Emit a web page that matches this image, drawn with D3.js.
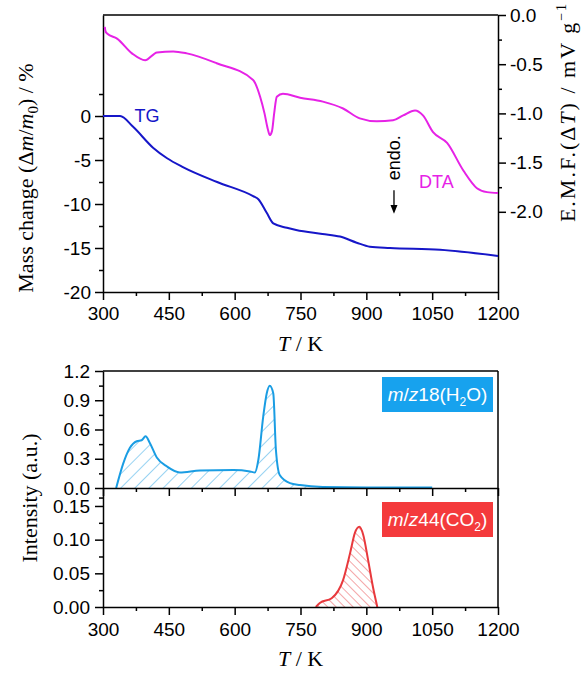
<!DOCTYPE html>
<html>
<head>
<meta charset="utf-8">
<script src="https://d3js.org/d3.v7.min.js"></script>
<style>
body { margin: 0; background: #fff; }
.tick text { font-family: "Liberation Sans", Arial, sans-serif; font-size: 19px; }
.domain { stroke: #000; stroke-width: 1.5; }
.tick line { stroke: #000; stroke-width: 1.5; }
.title { font-family: "Liberation Serif", "Times New Roman", serif; font-size: 22px; }
</style>
</head>
<body>
<script>
// TG (mass change, %)
var tgT = [300, 339, 368, 414, 446, 482, 560, 642, 654, 673, 688, 719, 740, 800, 840, 878, 908, 954, 1068, 1200];
var tgV = [0, 0, -1.2, -3.6, -4.8, -5.8, -7.5, -9.1, -9.45, -11, -12.2, -12.7, -12.95, -13.4, -13.7, -14.4, -14.85, -15.0, -15.2, -15.9];

// DTA (mV/g)
var dtaT = [304, 306, 310, 332, 366, 396, 423, 460, 491, 559, 642, 658, 668, 675, 680, 685, 690, 696, 710, 749, 801, 847, 885, 924, 961, 984, 1011, 1029, 1052, 1084, 1121, 1152, 1175, 1200];
var dtaV = [-0.12, -0.17, -0.19, -0.24, -0.39, -0.46, -0.38, -0.37, -0.39, -0.49, -0.66, -0.83, -1.0, -1.15, -1.22, -1.18, -1.0, -0.83, -0.80, -0.84, -0.88, -0.95, -1.05, -1.08, -1.07, -1.02, -0.97, -1.02, -1.19, -1.30, -1.58, -1.76, -1.80, -1.81];

// MS m/z 18
var h2oT = [330, 346, 361, 377, 388, 397, 407, 423, 446, 475, 521, 597, 635, 646, 654, 665, 673, 680, 688, 694, 703, 726, 749, 801, 900, 1000, 1050];
var h2oV = [0, 0.25, 0.41, 0.48, 0.49, 0.53, 0.46, 0.31, 0.22, 0.16, 0.18, 0.185, 0.17, 0.16, 0.29, 0.73, 0.97, 1.05, 0.97, 0.39, 0.13, 0.05, 0.03, 0.01, 0.005, 0.005, 0.005];

// MS m/z 44
var co2T = [785, 794, 821, 847, 863, 874, 884, 893, 904, 915, 925];
var co2V = [0, 0.006, 0.013, 0.04, 0.08, 0.11, 0.119, 0.107, 0.07, 0.03, 0];

var xTicks = [300, 450, 600, 750, 900, 1050, 1200];
var tgTicks = [-20, -15, -10, -5, 0];
var dtaTicks = [0, -0.5, -1.0, -1.5, -2.0];
var h2oTicks = [0, 0.3, 0.6, 0.9, 1.2];
var co2Ticks = [0, 0.05, 0.10, 0.15];

var w = 586, h = 673;
var L = 103, R = 498;

var svg = d3.select("body").append("svg").attr("width", w).attr("height", h);

// plain hyphen minus like the original
function fmt(p) {
    return function(d) { return (p == null ? String(d) : d.toFixed(p)).replace("\u2212", "-"); };
}

var defs = svg.append("defs");
function hatch(id, color, angle, gap) {
    var p = defs.append("pattern").attr("id", id).attr("patternUnits", "userSpaceOnUse")
        .attr("width", gap).attr("height", gap).attr("patternTransform", "rotate(" + angle + ")");
    p.append("line").attr("x1", 0).attr("y1", 0).attr("x2", 0).attr("y2", gap)
        .attr("stroke", color).attr("stroke-width", 0.9);
}
hatch("hH2O", "#1a9de3", 45, 10);
hatch("hCO2", "#e8393d", -45, 6);

var x = d3.scaleLinear().domain([300, 1200]).range([L, R]);

// ---------- top panel ----------
var topY0 = 15, topY1 = 292;
var yTG = d3.scaleLinear().domain([-20, 11.48]).range([topY1, topY0]);
var yDTA = d3.scaleLinear().domain([-2.815, 0]).range([topY1, topY0]);

function minorAxis(g, axisFn, scale, vals) {
    g.call(axisFn(scale).tickValues(vals).tickSize(4).tickFormat("").tickSizeOuter(0));
    g.select(".domain").remove();
}

function mids(arr) {
    var out = [];
    var s = arr.slice().sort(function(a, b) { return a - b; });
    for (var i = 0; i < s.length - 1; i++) out.push((s[i] + s[i + 1]) / 2);
    return out;
}

svg.append("line").attr("x1", L).attr("x2", R).attr("y1", topY0).attr("y2", topY0)
    .attr("stroke", "#000").attr("stroke-width", 1.5);

var gx = svg.append("g").attr("transform", "translate(0," + topY1 + ")");
gx.call(d3.axisBottom(x).tickValues(xTicks).tickSize(8).tickPadding(7).tickSizeOuter(0).tickFormat(fmt()));
minorAxis(svg.append("g").attr("transform", "translate(0," + topY1 + ")"), d3.axisBottom, x, mids(xTicks));

var gl = svg.append("g").attr("transform", "translate(" + L + ",0)");
gl.call(d3.axisLeft(yTG).tickValues(tgTicks).tickSize(8).tickPadding(4).tickSizeOuter(0).tickFormat(fmt()));
minorAxis(svg.append("g").attr("transform", "translate(" + L + ",0)"), d3.axisLeft, yTG, mids(tgTicks).concat([2.5]));

var gr = svg.append("g").attr("transform", "translate(" + R + ",0)");
gr.call(d3.axisRight(yDTA).tickValues(dtaTicks).tickSize(8).tickPadding(4).tickSizeOuter(0).tickFormat(fmt(1)));
minorAxis(svg.append("g").attr("transform", "translate(" + R + ",0)"), d3.axisRight, yDTA, mids(dtaTicks));

var tgLine = d3.line().curve(d3.curveMonotoneX)
    .x(function(d, i) { return x(tgT[i]); }).y(function(d) { return yTG(d); });
svg.append("path").attr("d", tgLine(tgV)).attr("fill", "none").attr("stroke", "#1616c8").attr("stroke-width", 2);

var dtaLine = d3.line().curve(d3.curveMonotoneX)
    .x(function(d, i) { return x(dtaT[i]); }).y(function(d) { return yDTA(d); });
svg.append("path").attr("d", dtaLine(dtaV)).attr("fill", "none").attr("stroke", "#e622e6").attr("stroke-width", 2);

svg.append("text").attr("x", x(372)).attr("y", yTG(-0.7)).text("TG")
    .attr("fill", "#1616c8").style("font-family", "Liberation Sans, Arial").style("font-size", "18px");
svg.append("text").attr("x", x(1020)).attr("y", yDTA(-1.76)).text("DTA")
    .attr("fill", "#e622e6").style("font-family", "Liberation Sans, Arial").style("font-size", "18px");

// endo. arrow
var ex = x(963);
svg.append("text").attr("transform", "translate(" + (ex + 6) + "," + yDTA(-1.68) + ") rotate(-90)")
    .text("endo.").style("font-family", "Liberation Sans, Arial").style("font-size", "18px");
svg.append("line").attr("x1", ex).attr("x2", ex).attr("y1", yDTA(-1.78)).attr("y2", yDTA(-1.96))
    .attr("stroke", "#000").attr("stroke-width", 1.3);
svg.append("path").attr("d", "M" + (ex - 3.5) + "," + yDTA(-1.93) + "L" + (ex + 3.5) + "," + yDTA(-1.93) + "L" + ex + "," + yDTA(-2.02) + "Z")
    .attr("fill", "#000");

// axis titles (top)
var t1 = svg.append("text").attr("class", "title").attr("text-anchor", "middle")
    .attr("transform", "translate(33,178) rotate(-90)");
t1.append("tspan").text("Mass change (\u0394");
t1.append("tspan").text("m").style("font-style", "italic");
t1.append("tspan").text("/");
t1.append("tspan").text("m").style("font-style", "italic");
t1.append("tspan").text("0").attr("font-size", "15px").attr("dy", 5);
t1.append("tspan").text(") / %").attr("dy", -5);

var t2 = svg.append("text").attr("class", "title").attr("text-anchor", "middle")
    .style("letter-spacing", "2px")
    .attr("transform", "translate(575,112) rotate(-90)");
t2.append("tspan").text("E.M.F.(\u0394");
t2.append("tspan").text("T").style("font-style", "italic");
t2.append("tspan").text(") / mV g");
t2.append("tspan").text("\u22121").attr("font-size", "14px").attr("dy", -9);

function tkLabel(yy) {
    var t = svg.append("text").attr("class", "title").attr("text-anchor", "middle")
        .attr("x", (L + R) / 2).attr("y", yy);
    t.append("tspan").text("T").style("font-style", "italic");
    t.append("tspan").text(" / K");
}
tkLabel(351);

// ---------- MS panels ----------
var m1Top = 371, m1Bot = 488, m2Bot = 607;
var yH = d3.scaleLinear().domain([0, 1.2]).range([m1Bot, m1Top]);
var yC = d3.scaleLinear().domain([0, 0.1767]).range([m2Bot, m1Bot]);

svg.append("line").attr("x1", L).attr("x2", R).attr("y1", m1Top).attr("y2", m1Top)
    .attr("stroke", "#000").attr("stroke-width", 1.5);
svg.append("line").attr("x1", R).attr("x2", R).attr("y1", m1Top).attr("y2", m2Bot)
    .attr("stroke", "#000").attr("stroke-width", 1.5);

var hArea = d3.area().curve(d3.curveMonotoneX)
    .x(function(d, i) { return x(h2oT[i]); }).y0(m1Bot).y1(function(d) { return yH(d); });
var hLine = d3.line().curve(d3.curveMonotoneX)
    .x(function(d, i) { return x(h2oT[i]); }).y(function(d) { return yH(d); });
svg.append("path").attr("d", hArea(h2oV)).attr("fill", "url(#hH2O)");
svg.append("path").attr("d", hLine(h2oV)).attr("fill", "none").attr("stroke", "#1a9de3").attr("stroke-width", 2);

var cArea = d3.area().curve(d3.curveMonotoneX)
    .x(function(d, i) { return x(co2T[i]); }).y0(m2Bot).y1(function(d) { return yC(d); });
var cLine = d3.line().curve(d3.curveMonotoneX)
    .x(function(d, i) { return x(co2T[i]); }).y(function(d) { return yC(d); });
svg.append("path").attr("d", cArea(co2V)).attr("fill", "url(#hCO2)");
svg.append("path").attr("d", cLine(co2V)).attr("fill", "none").attr("stroke", "#e8393d").attr("stroke-width", 2);

// axes MS
var g1 = svg.append("g").attr("transform", "translate(0," + m1Bot + ")");
g1.call(d3.axisBottom(x).tickValues(xTicks).tickSize(8).tickFormat("").tickSizeOuter(0));
minorAxis(svg.append("g").attr("transform", "translate(0," + m1Bot + ")"), d3.axisBottom, x, mids(xTicks));

var g2 = svg.append("g").attr("transform", "translate(0," + m2Bot + ")");
g2.call(d3.axisBottom(x).tickValues(xTicks).tickSize(8).tickPadding(8).tickSizeOuter(0).tickFormat(fmt()));
minorAxis(svg.append("g").attr("transform", "translate(0," + m2Bot + ")"), d3.axisBottom, x, mids(xTicks));

var gh = svg.append("g").attr("transform", "translate(" + L + ",0)");
gh.call(d3.axisLeft(yH).tickValues(h2oTicks).tickSize(8).tickPadding(5).tickSizeOuter(0).tickFormat(fmt(1)));
minorAxis(svg.append("g").attr("transform", "translate(" + L + ",0)"), d3.axisLeft, yH, mids(h2oTicks));

var gc = svg.append("g").attr("transform", "translate(" + L + ",0)");
gc.call(d3.axisLeft(yC).tickValues(co2Ticks).tickSize(8).tickPadding(5).tickSizeOuter(0).tickFormat(fmt(2)));
minorAxis(svg.append("g").attr("transform", "translate(" + L + ",0)"), d3.axisLeft, yC, mids(co2Ticks).concat([0.1625]));

// legend boxes
function badge(y0, color, species, sub, tail) {
    svg.append("rect").attr("x", 382).attr("y", y0).attr("width", 111).attr("height", 35).attr("fill", color);
    var t = svg.append("text").attr("x", 437.5).attr("y", y0 + 24).attr("text-anchor", "middle")
        .attr("fill", "#fff").style("font-family", "Liberation Sans, Arial").style("font-size", "19px");
    t.append("tspan").text("m").style("font-style", "italic");
    t.append("tspan").text("/");
    t.append("tspan").text("z").style("font-style", "italic");
    t.append("tspan").text(species);
    t.append("tspan").text(sub).attr("font-size", "12px").attr("dy", 5);
    t.append("tspan").text(tail).attr("dy", -5);
}
badge(377, "#17a2ee", "18(H", "2", "O)");
badge(502, "#f43a3c", "44(CO", "2", ")");

svg.append("text").attr("class", "title").attr("text-anchor", "middle")
    .attr("transform", "translate(37,498) rotate(-90)").text("Intensity (a.u.)");
tkLabel(666);
</script>
</body>
</html>
